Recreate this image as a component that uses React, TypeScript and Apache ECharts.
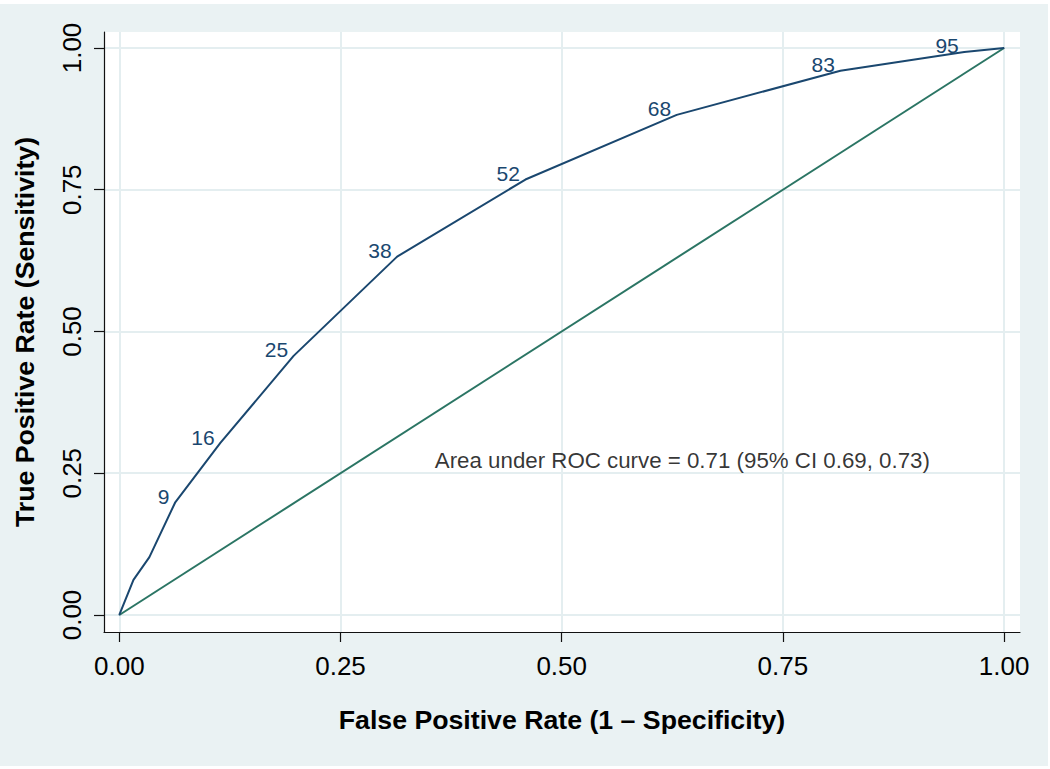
import React, { useEffect, useRef } from "react";
import * as echarts from "echarts";

// ROC curve points (1 - specificity, sensitivity) and cut-point labels
const fpr = [0, 0.016, 0.034, 0.063, 0.114, 0.197, 0.314, 0.459, 0.63, 0.815, 0.955, 1];
const tpr = [0, 0.062, 0.102, 0.198, 0.303, 0.457, 0.632, 0.768, 0.882, 0.96, 0.993, 1];
const cutLabels = ["", "", "", "9", "16", "25", "38", "52", "68", "83", "95", ""];

// reference (chance) line
const refX = [0, 1];
const refY = [0, 1];

// axis ticks
const tickValues = [0, 0.25, 0.5, 0.75, 1];

const xTitle = "False Positive Rate (1 \u2013 Specificity)";
const yTitle = "True Positive Rate (Sensitivity)";
const aucText = "Area under ROC curve = 0.71 (95% CI 0.69, 0.73)";
const aucX = [0.356];
const aucY = [0.272];

const FONT = "Liberation Sans, Arial, Helvetica, sans-serif";

export default function App() {
  const ref = useRef<HTMLDivElement>(null);

  useEffect(() => {
    document.body.style.margin = "0";
    document.body.style.background = "#ffffff";
    const chart = echarts.init(ref.current!, null, { renderer: "svg" });

    const labelCommon = {
      customValues: tickValues,
      fontFamily: FONT,
      fontSize: 26,
      color: "#000",
      formatter: (v: number) => v.toFixed(2),
    };

    const axisCommon = (name: string) => ({
      type: "value",
      name,
      nameLocation: "middle",
      nameTextStyle: { fontFamily: FONT, fontSize: 26.7, fontWeight: "bold", color: "#000" },
      axisLine: { show: true, onZero: false, lineStyle: { color: "#111", width: 1.2 } },
      axisTick: { show: true, inside: false, length: 10, customValues: tickValues, lineStyle: { color: "#111", width: 1.2 } },
      splitLine: { show: true, lineStyle: { color: "#e4eef0", width: 2 } },
    });

    chart.setOption({
      animation: false,
      backgroundColor: "#eaf2f3",
      tooltip: { show: false },
      grid: {
        left: 104,
        top: 28,
        width: 916,
        height: 600,
        show: true,
        backgroundColor: "#ffffff",
        borderWidth: 0,
      },
      xAxis: {
        ...axisCommon(xTitle),
        min: -0.0173,
        max: 1.018,
        nameGap: 74,
        axisLabel: { ...labelCommon, margin: 21 },
      },
      yAxis: {
        ...axisCommon(yTitle),
        min: -0.03,
        max: 1.0282,
        nameGap: 66,
        axisLabel: { ...labelCommon, rotate: 90, margin: 19 },
      },
      series: [
        {
          type: "line",
          data: refX.map((x, i) => [x, refY[i]]),
          showSymbol: false,
          symbol: "none",
          lineStyle: { color: "#2b7564", width: 2 },
          z: 2,
        },
        {
          type: "line",
          data: fpr.map((x, i) => [x, tpr[i]]),
          symbol: "circle",
          symbolSize: 1,
          showSymbol: true,
          itemStyle: { color: "#1a476f" },
          lineStyle: { color: "#1a476f", width: 2 },
          label: {
            show: true,
            position: "left",
            distance: 5,
            offset: [0, -6],
            fontFamily: FONT,
            fontSize: 21,
            color: "#1a476f",
            formatter: (p: any) => cutLabels[p.dataIndex],
          },
          z: 3,
        },
        {
          type: "scatter",
          data: aucX.map((x, i) => [x, aucY[i]]),
          symbolSize: 1,
          itemStyle: { color: "transparent" },
          label: {
            show: true,
            position: "right",
            distance: 0,
            fontFamily: FONT,
            fontSize: 22.3,
            color: "#000",
            formatter: () => aucText,
          },
          z: 4,
        },
      ],
    });

    return () => chart.dispose();
  }, []);

  return (
    <div style={{ width: 1050, height: 769, background: "#ffffff" }}>
      <div ref={ref} style={{ position: "absolute", left: 0, top: 4, width: 1048, height: 762 }} />
    </div>
  );
}
